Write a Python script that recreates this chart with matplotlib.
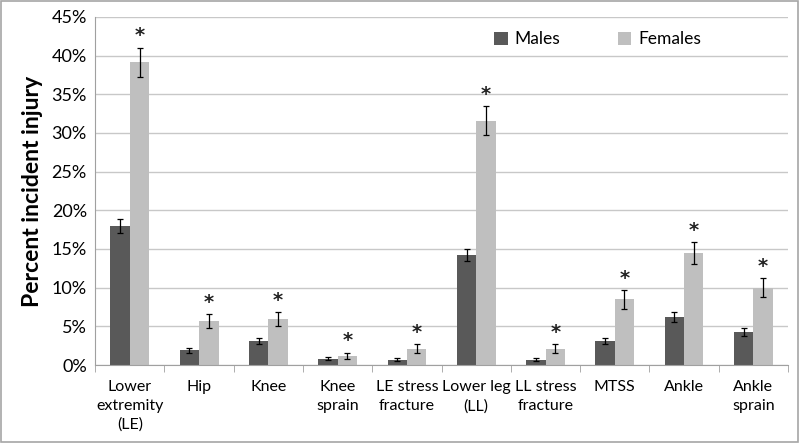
import numpy as np
import matplotlib
matplotlib.use("Agg")
import matplotlib.pyplot as plt
from matplotlib.ticker import FuncFormatter, FixedLocator

plt.rcParams["font.family"] = ["Lato", "DejaVu Sans"]

categories = ["Lower\nextremity\n(LE)", "Hip", "Knee", "Knee\nsprain", "LE stress\nfracture",
              "Lower leg\n(LL)", "LL stress\nfracture", "MTSS", "Ankle", "Ankle\nsprain"]
males = [18.0, 1.9, 3.1, 0.8, 0.7, 14.2, 0.7, 3.1, 6.2, 4.3]
males_err = [0.9, 0.3, 0.4, 0.2, 0.2, 0.8, 0.2, 0.4, 0.6, 0.5]
females = [39.1, 5.7, 5.9, 1.2, 2.1, 31.6, 2.1, 8.5, 14.5, 10.0]
females_err = [1.9, 0.9, 0.9, 0.4, 0.6, 1.85, 0.6, 1.2, 1.4, 1.2]
significant = [True] * 10

male_color = "#595959"
female_color = "#bfbfbf"

fig = plt.figure(figsize=(8, 4.43), dpi=100)
ax = fig.add_axes([0.119, 0.176, 0.866, 0.786])

x = np.arange(len(categories))
w = 0.28
ax.bar(x - w / 2, males, w, color=male_color, label="Males", zorder=2,
       yerr=males_err, error_kw=dict(ecolor="black", elinewidth=0.9, capsize=2.5, capthick=0.9))
ax.bar(x + w / 2, females, w, color=female_color, label="Females", zorder=2,
       yerr=females_err, error_kw=dict(ecolor="black", elinewidth=0.9, capsize=2.5, capthick=0.9))

for i, sig in enumerate(significant):
    if sig:
        ax.text(x[i] + w / 2, females[i] + females_err[i] + 0.3, "*", ha="center", va="bottom",
                fontsize=14, fontweight="bold", color="#222222", family="DejaVu Sans")

ax.set_xlim(-0.5, len(categories) - 0.5)
ax.set_ylim(0, 45)
ax.set_yticks(np.arange(0, 46, 5))
ax.yaxis.set_major_formatter(FuncFormatter(lambda v, p: f"{int(v)}%"))
ax.yaxis.grid(True, color="#c8c8c8", linewidth=1, zorder=0)
ax.set_axisbelow(True)

ax.set_xticks(x)
ax.set_xticklabels(categories, fontsize=11.5, linespacing=1.42)
ax.tick_params(axis="x", which="major", length=0, pad=11)
ax.xaxis.set_minor_locator(FixedLocator(np.arange(-0.5, len(categories), 1)))
ax.tick_params(axis="x", which="minor", length=5, color="#a0a0a0", direction="out")
ax.tick_params(axis="y", length=0, labelsize=13, pad=6)

for s in ["top", "right"]:
    ax.spines[s].set_visible(False)
for s in ["left", "bottom"]:
    ax.spines[s].set_color("#a0a0a0")

ax.set_ylabel("Percent incident injury", fontsize=16.5, fontweight="bold", labelpad=6)

ax.legend(loc="center", bbox_to_anchor=(0.725, 0.935), ncol=2, frameon=False, fontsize=12.5,
          handlelength=0.8, handleheight=0.8, columnspacing=3.3, handletextpad=0.4)

fig.patches.append(plt.Rectangle((0.001, 0.002), 0.997, 0.996, transform=fig.transFigure,
                                 fill=False, edgecolor="#a6a6a6", linewidth=1.2))

fig.savefig("out.png", dpi=100)
